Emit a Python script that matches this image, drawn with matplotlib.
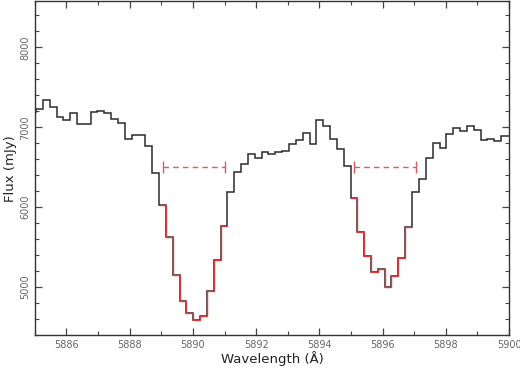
import matplotlib
matplotlib.use("Agg")
import matplotlib.pyplot as plt
from matplotlib.ticker import MultipleLocator

# bin edges of the spectrum (Angstrom)
wave_edges = [5884.82, 5885.04, 5885.25, 5885.47, 5885.69, 5885.90, 5886.12, 5886.33,
              5886.55, 5886.77, 5886.98, 5887.20, 5887.42, 5887.63, 5887.85, 5888.06,
              5888.28, 5888.50, 5888.71, 5888.93, 5889.15, 5889.36, 5889.58, 5889.79,
              5890.01, 5890.23, 5890.44, 5890.66, 5890.88, 5891.09, 5891.31, 5891.53,
              5891.74, 5891.96, 5892.17, 5892.39, 5892.61, 5892.82, 5893.04, 5893.26,
              5893.47, 5893.69, 5893.90, 5894.12, 5894.34, 5894.55, 5894.77, 5894.99,
              5895.20, 5895.42, 5895.64, 5895.85, 5896.07, 5896.28, 5896.50, 5896.72,
              5896.93, 5897.15, 5897.37, 5897.58, 5897.80, 5898.01, 5898.23, 5898.45,
              5898.66, 5898.88, 5899.10, 5899.31, 5899.53, 5899.74, 5899.96, 5900.18]

# flux per bin (mJy)
flux = [7190, 7225, 7340, 7260, 7125, 7090, 7175, 7040, 7040, 7190,
        7200, 7175, 7100, 7050, 6860, 6900, 6900, 6760, 6430, 6030,
        5625, 5150, 4825, 4680, 4590, 4640, 4955, 5340, 5760, 6190,
        6440, 6545, 6660, 6620, 6685, 6670, 6690, 6700, 6790, 6840,
        6930, 6795, 7090, 7020, 6850, 6725, 6520, 6110, 5690, 5390,
        5190, 5225, 5005, 5140, 5360, 5755, 6190, 6350, 6610, 6805,
        6735, 6920, 6995, 6955, 7020, 6970, 6845, 6855, 6830, 6895,
        6895]

# absorption line bins shown in red (first, last bin index)
line_bins = [(19, 28), (47, 55)]

# width markers of the two lines
marker_center = [5890.02, 5896.08]
marker_halfwidth = [0.98, 0.98]
marker_flux = [6500, 6500]

fig = plt.figure(figsize=(5.2, 3.69), dpi=100)
ax = fig.add_axes([0.067, 0.092, 0.912, 0.904])

ax.stairs(flux, wave_edges, color="#2b2b2b", linewidth=1.1, baseline=None)
for i0, i1 in line_bins:
    ax.stairs(flux[i0:i1 + 1], wave_edges[i0:i1 + 2], color="#e0393e",
              linewidth=1.0, baseline=None)

eb = ax.errorbar(marker_center, marker_flux, xerr=marker_halfwidth, fmt="none",
                 ecolor="#e2585c", elinewidth=1.0, capsize=4.5, capthick=1.0)
eb[2][0].set_linestyle((0, (4, 3)))

ax.set_xlim(5885, 5900)
ax.set_ylim(4400, 8575)
ax.xaxis.set_major_locator(MultipleLocator(2))
ax.xaxis.set_minor_locator(MultipleLocator(1))
ax.yaxis.set_major_locator(MultipleLocator(1000))
ax.yaxis.set_minor_locator(MultipleLocator(200))

ax.tick_params(which="both", direction="in", top=True, right=True,
               colors="#444444", labelcolor="#666666", labelsize=7)
ax.tick_params(which="major", length=5, width=0.9)
ax.tick_params(which="minor", length=3, width=0.8)
for lab in ax.get_yticklabels():
    lab.set_rotation(90)
    lab.set_va("center")
for sp in ax.spines.values():
    sp.set_color("#333333")
    sp.set_linewidth(1.0)

ax.set_xlabel("Wavelength (Å)", fontsize=9.5, color="#222222", labelpad=1)
ax.set_ylabel("Flux (mJy)", fontsize=9.5, color="#222222", labelpad=2)

fig.savefig("out.png", dpi=100, facecolor="white")
